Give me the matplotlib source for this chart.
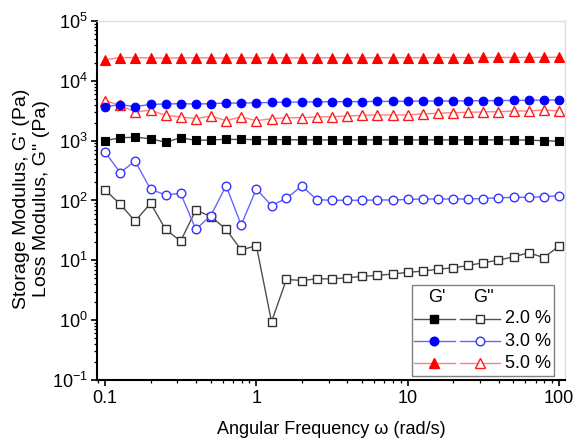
import numpy as np
import matplotlib
matplotlib.use("Agg")
import matplotlib.pyplot as plt
from matplotlib.ticker import FuncFormatter, LogLocator, NullFormatter
from matplotlib.patches import Rectangle
from matplotlib.lines import Line2D

plt.rcParams['font.family'] = ['Liberation Sans', 'DejaVu Sans']
plt.rcParams['mathtext.fontset'] = 'custom'
plt.rcParams['mathtext.rm'] = 'Liberation Sans'
plt.rcParams['mathtext.it'] = 'Liberation Sans:italic'
plt.rcParams['mathtext.bf'] = 'Liberation Sans:bold'

# angular frequency sweep (rad/s)
omega = [0.1, 0.126, 0.158, 0.2, 0.251, 0.316, 0.398, 0.501, 0.631, 0.794,
         1.0, 1.26, 1.58, 2.0, 2.51, 3.16, 3.98, 5.01, 6.31, 7.94,
         10.0, 12.6, 15.8, 20.0, 25.1, 31.6, 39.8, 50.1, 63.1, 79.4, 100.0]

# storage modulus G' (Pa)
g1_2 = [1000, 1120, 1140, 1080, 940, 1120, 1010, 1030, 1050, 1050,
        1040, 1040, 1040, 1030, 1030, 1030, 1030, 1030, 1030, 1030,
        1030, 1030, 1030, 1030, 1030, 1030, 1030, 1030, 1020, 1000, 975]
g1_3 = [3700, 4000, 3700, 4050, 4100, 4150, 4100, 4150, 4250, 4250,
        4300, 4350, 4400, 4430, 4460, 4490, 4490, 4500, 4530, 4530,
        4560, 4590, 4600, 4620, 4640, 4660, 4680, 4700, 4730, 4760, 4790]
g1_5 = [22500, 24500, 24500, 24200, 24000, 24300, 24300, 24200, 24000, 24300,
        24100, 24300, 24200, 24200, 24300, 24300, 24300, 24300, 24400, 24400,
        24400, 24400, 24500, 24500, 24500, 24600, 24600, 24600, 24700, 24700, 24800]

# loss modulus G'' (Pa)
g2_2 = [150, 87, 45, 90, 33, 21, 69, 54, 33, 14.9,
        17.6, 0.94, 4.8, 4.6, 4.9, 4.9, 5.1, 5.4, 5.6, 5.9,
        6.3, 6.6, 7.1, 7.5, 8.2, 9.1, 10.1, 11.4, 13.4, 11.1, 17.3]
g2_3 = [645, 292, 457, 154, 124, 132, 33, 56, 177, 39,
        156, 82, 109, 175, 103, 101, 101, 101, 102, 102,
        104, 106, 106, 106, 106, 108, 111, 113, 113, 116, 120]
g2_5 = [4660, 3890, 3020, 3230, 2650, 2500, 2330, 2580, 2160, 2500,
        2160, 2330, 2420, 2420, 2490, 2520, 2580, 2650, 2690, 2690,
        2690, 2800, 2870, 2940, 2980, 3020, 3060, 3130, 3130, 3260, 3130]

concentrations = ["2.0 %", "3.0 %", "5.0 %"]
fill_colors = ["black", "#0000ff", "#ff0000"]
edge_open = ["#303030", "#3333ff", "#ff1a1a"]
line_colors = ["#505050", "#6666ff", "#ff8080"]
markers = ["s", "o", "^"]
msizes = [5.2, 6.2, 6.5]

fig = plt.figure(figsize=(5.75, 4.4), dpi=100)
ax = fig.add_axes([97/575, 1-380/440, 468/575, 359/440])

storage = [g1_2, g1_3, g1_5]
loss = [g2_2, g2_3, g2_5]
for i in range(3):
    ax.plot(omega, loss[i], color=line_colors[i], lw=1.0, marker=markers[i],
            ms=msizes[i], mfc="white", mec=edge_open[i], mew=1.0, zorder=3)
for i in range(3):
    ax.plot(omega, storage[i], color=line_colors[i], lw=1.0, marker=markers[i],
            ms=msizes[i], mfc=fill_colors[i], mec=fill_colors[i], mew=0.8, zorder=4)

ax.set_xscale("log")
ax.set_yscale("log")
ax.set_xlim(0.0885, 109.6)
ax.set_ylim(1e-1, 1e5)

def sci(v, pos):
    e = int(round(np.log10(v)))
    return r"$\mathregular{10^{%d}}$" % e

def plain(v, pos):
    return "%g" % v

ax.yaxis.set_major_locator(LogLocator(base=10, numticks=20))
ax.yaxis.set_minor_locator(LogLocator(base=10, subs=np.arange(2, 10), numticks=20))
ax.yaxis.set_major_formatter(FuncFormatter(sci))
ax.yaxis.set_minor_formatter(NullFormatter())
ax.xaxis.set_major_locator(LogLocator(base=10, numticks=20))
ax.xaxis.set_minor_locator(LogLocator(base=10, subs=np.arange(2, 10), numticks=20))
ax.xaxis.set_major_formatter(FuncFormatter(plain))
ax.xaxis.set_minor_formatter(NullFormatter())

ax.tick_params(which="major", direction="out", length=4.5, width=1.2, labelsize=13)
ax.tick_params(axis="y", which="major", pad=2)
ax.tick_params(axis="x", which="major", pad=3)
ax.tick_params(which="minor", direction="out", length=2.5, width=0.9)

for s in ["left", "bottom"]:
    ax.spines[s].set_linewidth(1.5)
    ax.spines[s].set_color("black")
for s in ["top", "right"]:
    ax.spines[s].set_linewidth(1.0)
    ax.spines[s].set_color("#dddddd")

ax.set_xlabel("Angular Frequency \u03c9 (rad/s)", fontsize=13)
ax.xaxis.label.set_verticalalignment("baseline")
ax.xaxis.set_label_coords(0.5, (380 - 434) / 359)

ax.set_ylabel("Storage Modulus, G' (Pa)\nLoss Modulus, G'' (Pa)", fontsize=14,
              linespacing=1.2)
ax.yaxis.label.set_verticalalignment("center")
ax.yaxis.set_label_coords((31.5 - 97) / 468, 0.505)

# legend drawn as a two-column key (G' filled, G'' open)
T = ax.transAxes
ax.add_patch(Rectangle((0.673, 0.011), 0.303, 0.254, transform=T,
                       facecolor="white", edgecolor="#808080", lw=1.0, zorder=10))
ax.text(0.727, 0.231, "G'", transform=T, ha="center", va="center", fontsize=13, zorder=11)
ax.text(0.826, 0.231, "G''", transform=T, ha="center", va="center", fontsize=13, zorder=11)
rows_y = [0.170, 0.108, 0.046]
for i in range(3):
    y = rows_y[i]
    ax.add_line(Line2D([0.677, 0.765], [y, y], transform=T, color=line_colors[i], lw=1.0, zorder=11))
    ax.add_line(Line2D([0.721], [y], transform=T, marker=markers[i], ms=msizes[i],
                       mfc=fill_colors[i], mec=fill_colors[i], ls="none", zorder=12))
    ax.add_line(Line2D([0.776, 0.861], [y, y], transform=T, color=line_colors[i], lw=1.0, zorder=11))
    ax.add_line(Line2D([0.819], [y], transform=T, marker=markers[i], ms=msizes[i],
                       mfc="white", mec=edge_open[i], mew=1.0, ls="none", zorder=12))
    ax.text(0.872, y, concentrations[i], transform=T, ha="left", va="center",
            fontsize=13, zorder=11)

fig.savefig("out.png", dpi=100)
